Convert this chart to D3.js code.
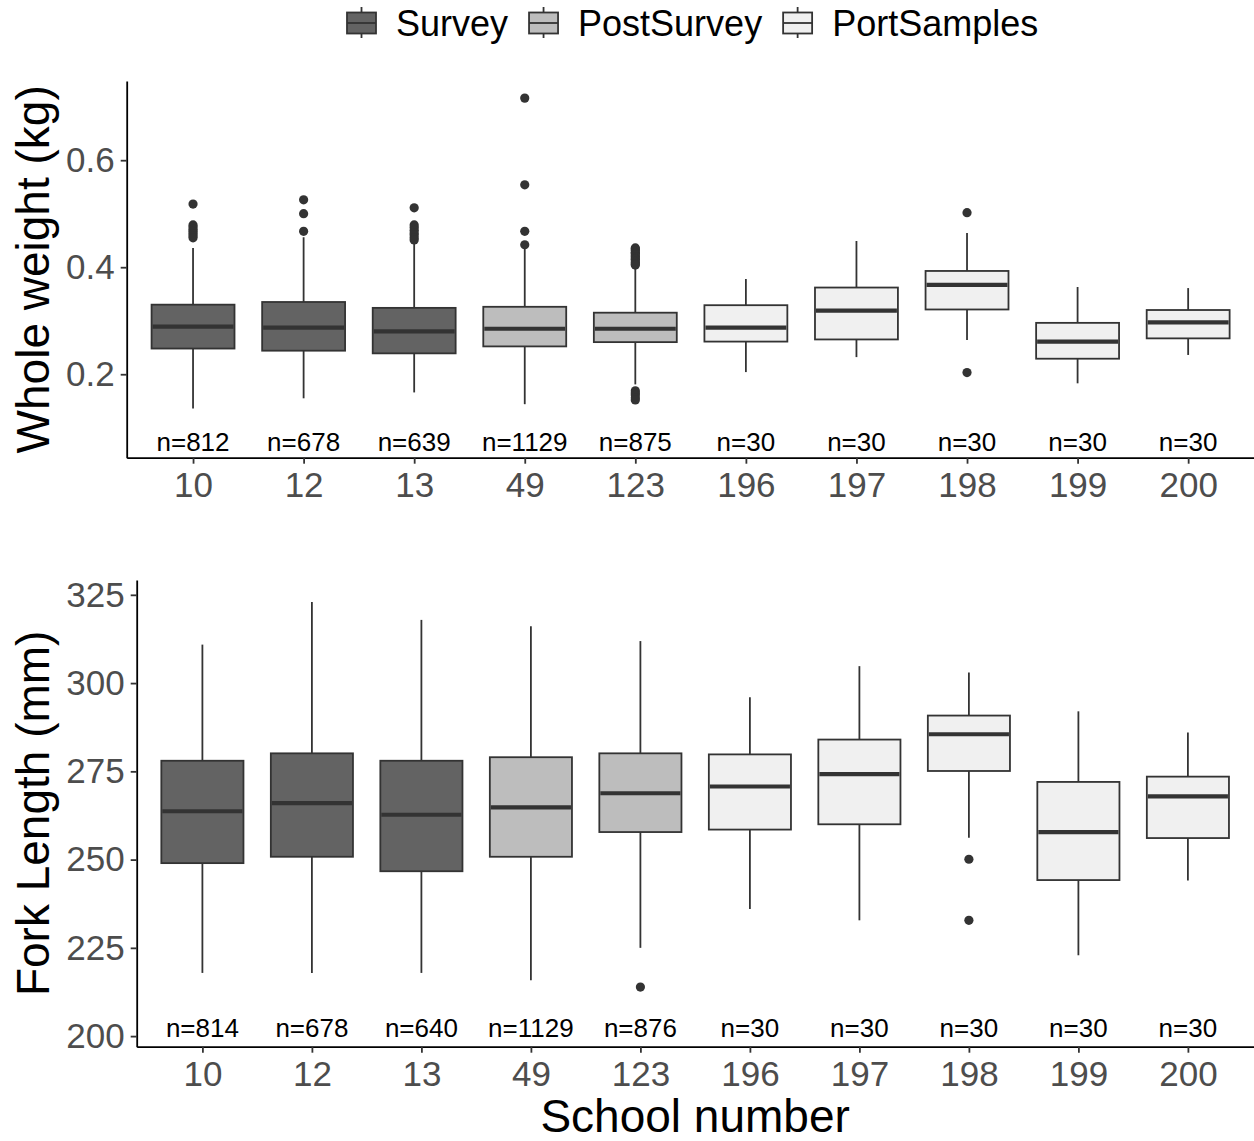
<!DOCTYPE html>
<html>
<head>
<meta charset="utf-8">
<script src="https://cdn.jsdelivr.net/npm/d3@7"></script>
<style>
  html, body { margin: 0; padding: 0; background: #ffffff; }
  svg { display: block; font-family: "Liberation Sans", Arial, Helvetica, sans-serif; }
</style>
</head>
<body>
<svg id="chart" width="1254" height="1141"></svg>
<script>
// School numbers along the x axis and the sampling source of each school
const schools = ["10", "12", "13", "49", "123", "196", "197", "198", "199", "200"];
const sources = ["Survey", "Survey", "Survey", "PostSurvey", "PostSurvey",
                 "PortSamples", "PortSamples", "PortSamples", "PortSamples", "PortSamples"];
const legendSources = ["Survey", "PostSurvey", "PortSamples"];

// Whole weight (kg): box statistics per school
const weightLower  = [0.136, 0.155, 0.166, 0.144, 0.181, 0.204, 0.232, 0.264, 0.183, 0.236];
const weightQ1     = [0.248, 0.244, 0.239, 0.252, 0.260, 0.261, 0.265, 0.321, 0.229, 0.267];
const weightMedian = [0.289, 0.287, 0.280, 0.285, 0.285, 0.287, 0.319, 0.367, 0.261, 0.297];
const weightQ3     = [0.330, 0.335, 0.324, 0.326, 0.315, 0.329, 0.362, 0.393, 0.296, 0.320];
const weightUpper  = [0.436, 0.456, 0.445, 0.438, 0.399, 0.378, 0.449, 0.464, 0.363, 0.361];
const weightOutliers = [
  [0.518, 0.479, 0.475, 0.471, 0.467, 0.463, 0.459, 0.455],
  [0.526, 0.500, 0.467],
  [0.511, 0.479, 0.474, 0.469, 0.464, 0.460, 0.455, 0.451],
  [0.716, 0.554, 0.467, 0.442],
  [0.436, 0.434, 0.431, 0.428, 0.426, 0.423, 0.420, 0.417, 0.415, 0.412, 0.409, 0.406, 0.404,
   0.169, 0.165, 0.161, 0.156, 0.152],
  [],
  [],
  [0.502, 0.203],
  [],
  []
];
const weightN = [812, 678, 639, 1129, 875, 30, 30, 30, 30, 30];
const weightTicks = [0.2, 0.4, 0.6];

// Fork length (mm): box statistics per school
const lengthLower  = [217.9, 217.9, 217.9, 215.8, 225.0, 236.0, 232.8, 256.2, 222.9, 244.1];
const lengthQ1     = [249.0, 250.8, 246.7, 250.8, 257.8, 258.5, 260.0, 275.1, 244.2, 256.1];
const lengthMedian = [263.7, 266.0, 262.7, 264.8, 268.8, 270.7, 274.2, 285.5, 257.8, 267.9];
const lengthQ3     = [278.0, 280.1, 278.0, 279.0, 280.1, 279.8, 284.0, 290.8, 272.0, 273.5];
const lengthUpper  = [310.9, 323.0, 317.9, 316.1, 311.9, 296.0, 304.8, 303.0, 292.0, 286.0];
const lengthOutliers = [[], [], [], [], [213.9], [], [], [250.1, 232.8], [], []];
const lengthN = [814, 678, 640, 1129, 876, 30, 30, 30, 30, 30];
const lengthTicks = [200, 225, 250, 275, 300, 325];

// Grey fills per source
const fillOf = { Survey: "#636363", PostSurvey: "#bdbdbd", PortSamples: "#f0f0f0" };
const ink = "#333333";
const tickInk = "#4d4d4d";
const fontStack = '"Liberation Sans", Arial, Helvetica, sans-serif';

const svg = d3.select("#chart");

function drawPanel(opts) {
  const x = d3.scalePoint().domain(schools).range([opts.left, opts.right]).padding(0.6);
  const y = d3.scaleLinear().domain(opts.domain).range([opts.bottom, opts.top]);
  const boxW = x.step() * 0.75;

  const g = svg.append("g");

  const rows = schools.map((s, i) => ({
    school: s, source: sources[i],
    lo: opts.lower[i], q1: opts.q1[i], med: opts.median[i], q3: opts.q3[i], hi: opts.upper[i],
    out: opts.outliers[i], n: opts.n[i]
  }));

  const box = g.selectAll("g.box").data(rows).join("g").attr("class", "box");

  // whiskers
  box.append("line")
    .attr("x1", d => x(d.school)).attr("x2", d => x(d.school))
    .attr("y1", d => y(d.q3)).attr("y2", d => y(d.hi))
    .attr("stroke", ink).attr("stroke-width", 1.8);
  box.append("line")
    .attr("x1", d => x(d.school)).attr("x2", d => x(d.school))
    .attr("y1", d => y(d.q1)).attr("y2", d => y(d.lo))
    .attr("stroke", ink).attr("stroke-width", 1.8);

  // boxes
  box.append("rect")
    .attr("x", d => x(d.school) - boxW / 2)
    .attr("width", boxW)
    .attr("y", d => y(d.q3))
    .attr("height", d => y(d.q1) - y(d.q3))
    .attr("fill", d => fillOf[d.source])
    .attr("stroke", ink).attr("stroke-width", 1.8);

  // medians
  box.append("line")
    .attr("x1", d => x(d.school) - boxW / 2 + 1).attr("x2", d => x(d.school) + boxW / 2 - 1)
    .attr("y1", d => y(d.med)).attr("y2", d => y(d.med))
    .attr("stroke", ink).attr("stroke-width", 4.2);

  // outliers
  box.selectAll("circle").data(d => d.out.map(v => ({ school: d.school, v })))
    .join("circle")
    .attr("cx", d => x(d.school)).attr("cy", d => y(d.v)).attr("r", 4.6)
    .attr("fill", ink);

  // sample sizes
  g.selectAll("text.n").data(rows).join("text").attr("class", "n")
    .attr("x", d => x(d.school)).attr("y", y(opts.nAt))
    .attr("text-anchor", "middle").attr("dominant-baseline", "central")
    .attr("font-size", 26).attr("fill", "#000")
    .text(d => "n=" + d.n);

  // axes
  const ax = g.append("g").attr("transform", `translate(0,${opts.bottom})`)
    .call(d3.axisBottom(x).tickSize(6).tickSizeOuter(0).tickPadding(8));
  const ay = g.append("g").attr("transform", `translate(${opts.left},0)`)
    .call(d3.axisLeft(y).tickValues(opts.ticks).tickFormat(opts.fmt)
      .tickSize(6).tickSizeOuter(0).tickPadding(6));
  [ax, ay].forEach(a => {
    a.select(".domain").attr("stroke", "#000").attr("stroke-width", 1.8);
    a.selectAll(".tick line").attr("stroke", ink).attr("stroke-width", 1.8);
    a.selectAll(".tick text").attr("fill", tickInk).attr("font-size", 35)
      .attr("font-family", fontStack);
  });

  // y axis title
  svg.append("text")
    .attr("transform", `translate(${opts.titleX},${(opts.top + opts.bottom) / 2}) rotate(-90)`)
    .attr("text-anchor", "middle").attr("font-size", 46).attr("fill", "#000")
    .text(opts.title);

  return x;
}

drawPanel({
  left: 126.7, right: 1254.5, top: 81, bottom: 457.7,
  domain: [0.044, 0.748], ticks: weightTicks, fmt: d3.format(".1f"),
  lower: weightLower, q1: weightQ1, median: weightMedian, q3: weightQ3, upper: weightUpper,
  outliers: weightOutliers, n: weightN, nAt: 0.074,
  title: "Whole weight (kg)", titleX: 49
});

drawPanel({
  left: 136.7, right: 1253.6, top: 580, bottom: 1046.7,
  domain: [197, 329.2], ticks: lengthTicks, fmt: d3.format("d"),
  lower: lengthLower, q1: lengthQ1, median: lengthMedian, q3: lengthQ3, upper: lengthUpper,
  outliers: lengthOutliers, n: lengthN, nAt: 202.3,
  title: "Fork Length (mm)", titleX: 49
});

// x axis title
svg.append("text")
  .attr("x", (136.7 + 1253.6) / 2).attr("y", 1132)
  .attr("text-anchor", "middle").attr("font-size", 46).attr("fill", "#000")
  .text("School number");

// legend across the top
const legend = svg.append("g");
let lx = 346;
legendSources.forEach(src => {
  const k = legend.append("g").attr("transform", `translate(${lx},0)`);
  k.append("line").attr("x1", 15.5).attr("x2", 15.5).attr("y1", 7).attr("y2", 38)
    .attr("stroke", ink).attr("stroke-width", 1.8);
  k.append("rect").attr("x", 1).attr("y", 12.5).attr("width", 29).attr("height", 21)
    .attr("fill", fillOf[src]).attr("stroke", ink).attr("stroke-width", 1.8);
  k.append("line").attr("x1", 1).attr("x2", 30).attr("y1", 23).attr("y2", 23)
    .attr("stroke", ink).attr("stroke-width", 1.8);
  const t = k.append("text").attr("x", 50).attr("y", 36)
    .attr("font-size", 36).attr("fill", "#000").text(src);
  lx += 50 + t.node().getComputedTextLength() + 20;
});
</script>
</body>
</html>
